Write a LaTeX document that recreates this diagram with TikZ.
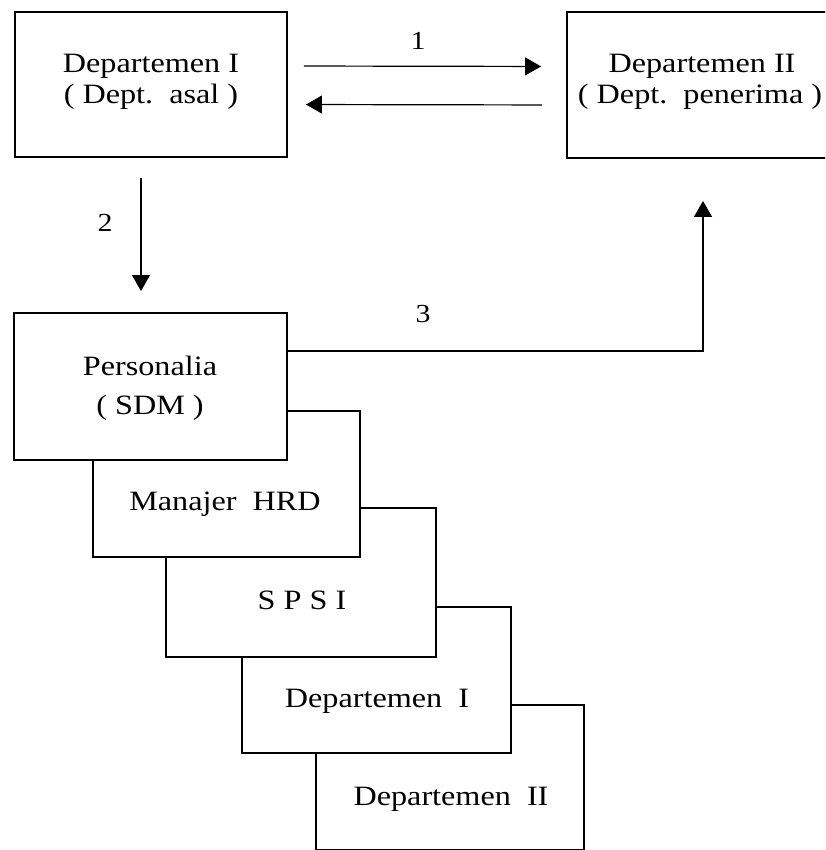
\documentclass[tikz,border=0pt]{standalone}
\usepackage{fontspec}
\setmainfont{Liberation Serif}[FakeStretch=1.15]
\usetikzlibrary{arrows.meta}
\tikzset{
  box/.style={draw, line width=1.9pt, fill=white, inner sep=0pt},
  lbl/.style={anchor=base, inner sep=0pt, font=\fontsize{28}{32}\selectfont},
  num/.style={anchor=base, inner sep=0pt, font=\fontsize{26}{30}\selectfont},
  arr/.style={line width=1.2pt, -{Triangle[length=16pt,width=18pt]}}
}
\begin{document}
\begin{tikzpicture}[x=1pt,y=-1pt]
\clip (0,0) rectangle (825,850);

% departments at the top
\node[box, minimum width=272pt, minimum height=145pt] (b1) at (151,84.5) {};
\node[box, minimum width=268pt, minimum height=146pt] (b2) at (701,85) {};
\node[lbl] (b1a) at (151,73) {Departemen I};
\node[lbl] (b1b) at (151,104) {( Dept.~~asal )};
\node[lbl] (b2a) at (702,73) {Departemen II};
\node[lbl] (b2b) at (700,104) {( Dept.~~penerima )};

% stacked boxes, back to front
\node[box, minimum width=268pt, minimum height=145pt] (d2) at (450,777.5) {};
\node[box, minimum width=269pt, minimum height=146pt] (d1) at (376.5,680) {};
\node[box, minimum width=270pt, minimum height=149pt] (spsi) at (301,582.5) {};
\node[box, minimum width=267pt, minimum height=146pt] (man) at (226.5,484) {};
\node[box, minimum width=273pt, minimum height=147pt] (pers) at (150.5,386.5) {};

\node[lbl] (persa) at (150,375) {Personalia};
\node[lbl] (persb) at (150,414) {( SDM )};
\node[lbl] (mant) at (225,510) {Manajer~~HRD};
\node[lbl] (spsit) at (302,609) {S P S I};
\node[lbl] (d1t) at (377,707) {Departemen~~I};
\node[lbl] (d2t) at (451,805) {Departemen~~II};

% flows between the units
\draw[arr, shorten <=16pt, shorten >=25pt]
  ([yshift=18.5pt]b1.east) -- ([yshift=18.5pt]b2.west);
\draw[arr, shorten <=24pt, shorten >=18pt]
  ([yshift=-20pt]b2.west) -- ([yshift=-20pt]b1.east);
\draw[arr, shorten <=20pt, shorten >=21pt]
  ([xshift=-10pt]b1.south) -- ([xshift=-9.5pt]pers.north);
\draw[arr, shorten >=42pt]
  ([yshift=35.5pt]pers.east) -| ([xshift=2pt]b2.south);

\node[num] (n1) at (418,50) {1};
\node[num] (n2) at (105,232) {2};
\node[num] (n3) at (423,322) {3};
\end{tikzpicture}
\end{document}
